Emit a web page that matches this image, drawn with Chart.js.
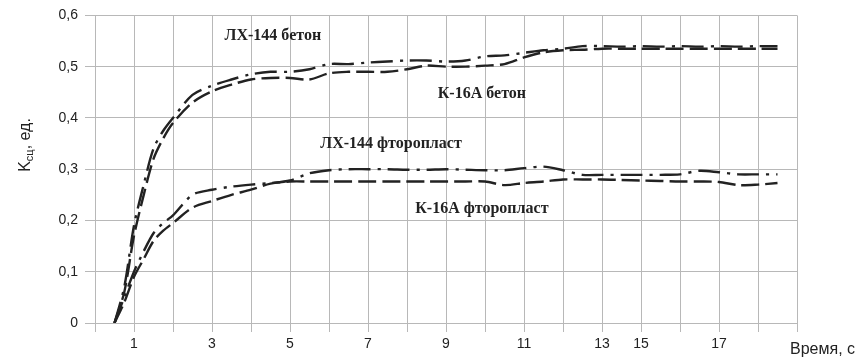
<!DOCTYPE html>
<html>
<head>
<meta charset="utf-8">
<script src="https://cdn.jsdelivr.net/npm/chart.js@4.4.1/dist/chart.umd.min.js"></script>
<style>
  html, body { margin: 0; padding: 0; background: #fff; }
  #wrap { width: 864px; height: 360px; }
</style>
</head>
<body>
<div id="wrap"><canvas id="c" width="864" height="360"></canvas></div>
<script>
// Positions along the category axis (index of gridline)
const timeIdx = [0.5, 0.75, 1, 1.25, 1.5, 1.75, 2, 2.5, 3, 3.5, 4, 4.5, 5, 5.5, 6, 6.5, 7, 7.5, 8, 8.5, 9, 9.5, 10, 10.5, 11, 11.5, 12, 12.5, 13, 13.5, 14, 14.5, 15, 15.5, 16, 16.5, 17, 17.5];

// Tick labels shown under each gridline index 0..18
const xTickLabels = ["", "1", "", "3", "", "5", "", "7", "", "9", "", "11", "", "13", "15", "", "17", "", ""];
const yTicks = [0, 0.1, 0.2, 0.3, 0.4, 0.5, 0.6];

// Series values (Kсц, ед.)
const lx144Beton = [0, 0.07, 0.19, 0.27, 0.34, 0.375, 0.40, 0.445, 0.463, 0.475, 0.485, 0.49, 0.49, 0.495, 0.505, 0.505, 0.508, 0.51, 0.512, 0.512, 0.51, 0.512, 0.52, 0.522, 0.527, 0.532, 0.535, 0.54, 0.54, 0.539, 0.54, 0.539, 0.54, 0.539, 0.54, 0.539, 0.54, 0.54];
const k16aBeton = [0, 0.06, 0.17, 0.25, 0.32, 0.36, 0.39, 0.43, 0.452, 0.465, 0.475, 0.478, 0.478, 0.475, 0.487, 0.49, 0.49, 0.49, 0.495, 0.502, 0.5, 0.5, 0.502, 0.505, 0.518, 0.528, 0.532, 0.533, 0.535, 0.535, 0.535, 0.535, 0.535, 0.535, 0.535, 0.535, 0.535, 0.535];
const lx144Ftoroplast = [0, 0.05, 0.10, 0.14, 0.175, 0.195, 0.21, 0.25, 0.26, 0.266, 0.27, 0.273, 0.278, 0.292, 0.298, 0.3, 0.3, 0.3, 0.299, 0.299, 0.3, 0.299, 0.298, 0.298, 0.302, 0.305, 0.298, 0.289, 0.289, 0.289, 0.289, 0.289, 0.29, 0.297, 0.294, 0.29, 0.29, 0.29];
const k16aFtoroplast = [0, 0.04, 0.09, 0.125, 0.16, 0.18, 0.195, 0.225, 0.238, 0.25, 0.26, 0.272, 0.276, 0.276, 0.276, 0.276, 0.276, 0.276, 0.276, 0.276, 0.276, 0.276, 0.276, 0.269, 0.273, 0.276, 0.28, 0.28, 0.28, 0.279, 0.278, 0.277, 0.276, 0.276, 0.275, 0.269, 0.27, 0.273];

// Curve captions: [text, x index, y value]
const captions = [
  ["ЛХ-144 бетон", 4.56, 0.561],
  ["К-16А бетон", 9.92, 0.446],
  ["ЛХ-144 фторопласт", 7.59, 0.349],
  ["К-16А фторопласт", 9.92, 0.222]
];

const toPts = (vals) => vals.map((v, i) => ({ x: timeIdx[i], y: v }));

const INK = '#222222';
const GRID = '#b8b8b8';

const textPlugin = {
  id: 'texts',
  afterDraw(chart) {
    const ctx = chart.ctx;
    const xs = chart.scales.x, ys = chart.scales.y;
    ctx.save();
    ctx.fillStyle = INK;
    ctx.font = 'bold 16px "Liberation Serif", "Times New Roman", serif';
    ctx.textAlign = 'center';
    ctx.textBaseline = 'middle';
    captions.forEach(([t, xv, yv]) => {
      ctx.fillText(t, xs.getPixelForValue(xv), ys.getPixelForValue(yv));
    });
    // X axis title
    ctx.font = '16px "Liberation Sans", Arial, sans-serif';
    ctx.textAlign = 'left';
    ctx.fillText('Время, с', xs.right - 7, 350);
    // Y axis title with subscript
    const big = '16px "Liberation Sans", Arial, sans-serif';
    const small = '11px "Liberation Sans", Arial, sans-serif';
    ctx.font = big; const wK = ctx.measureText('K').width;
    ctx.font = small; const wS = ctx.measureText('сц').width;
    ctx.font = big; const wR = ctx.measureText(', ед.').width;
    const total = wK + wS + wR;
    ctx.translate(30, 145);
    ctx.rotate(-Math.PI / 2);
    ctx.textAlign = 'left';
    ctx.textBaseline = 'alphabetic';
    let x0 = -total / 2;
    ctx.font = big; ctx.fillText('K', x0, 0); x0 += wK;
    ctx.font = small; ctx.fillText('сц', x0, 3); x0 += wS;
    ctx.font = big; ctx.fillText(', ед.', x0, 0);
    ctx.restore();
  }
};

const dash = [22, 7, 3, 7];

new Chart(document.getElementById('c'), {
  type: 'line',
  data: {
    datasets: [
      { label: 'ЛХ-144 бетон', data: toPts(lx144Beton), borderColor: INK, borderWidth: 2.4, borderDash: dash, pointRadius: 0, tension: 0.3, fill: false },
      { label: 'К-16А бетон', data: toPts(k16aBeton), borderColor: INK, borderWidth: 2.4, borderDash: [18, 6], pointRadius: 0, tension: 0.3, fill: false },
      { label: 'ЛХ-144 фторопласт', data: toPts(lx144Ftoroplast), borderColor: INK, borderWidth: 2.4, borderDash: dash, pointRadius: 0, tension: 0.3, fill: false },
      { label: 'К-16А фторопласт', data: toPts(k16aFtoroplast), borderColor: INK, borderWidth: 2.4, borderDash: [18, 6], pointRadius: 0, tension: 0.3, fill: false }
    ]
  },
  options: {
    responsive: false,
    animation: false,
    layout: { padding: { top: 15, right: 67, left: 0, bottom: 0 } },
    plugins: { legend: { display: false }, tooltip: { enabled: false } },
    scales: {
      x: {
        type: 'linear', min: 0, max: 18,
        afterBuildTicks: (s) => { s.ticks = xTickLabels.map((_, i) => ({ value: i })); },
        afterFit: (s) => { s.height = 37; },
        grid: { color: GRID, lineWidth: 1, tickLength: 9, drawTicks: true },
        border: { color: GRID },
        ticks: {
          autoSkip: false, maxRotation: 0, padding: 4, color: INK,
          font: { family: '"Liberation Sans", Arial, sans-serif', size: 14 },
          callback: (v) => xTickLabels[Math.round(v)] ?? ''
        }
      },
      y: {
        type: 'linear', min: 0, max: 0.6,
        afterBuildTicks: (s) => { s.ticks = yTicks.map(v => ({ value: v })); },
        afterFit: (s) => { s.width = 95; },
        grid: { color: GRID, lineWidth: 1, tickLength: 10, drawTicks: true },
        border: { color: GRID },
        ticks: {
          padding: 7, color: INK,
          font: { family: '"Liberation Sans", Arial, sans-serif', size: 14 },
          callback: (v) => (v === 0 ? '0' : v.toFixed(1).replace('.', ','))
        }
      }
    }
  },
  plugins: [textPlugin]
});
</script>
</body>
</html>
